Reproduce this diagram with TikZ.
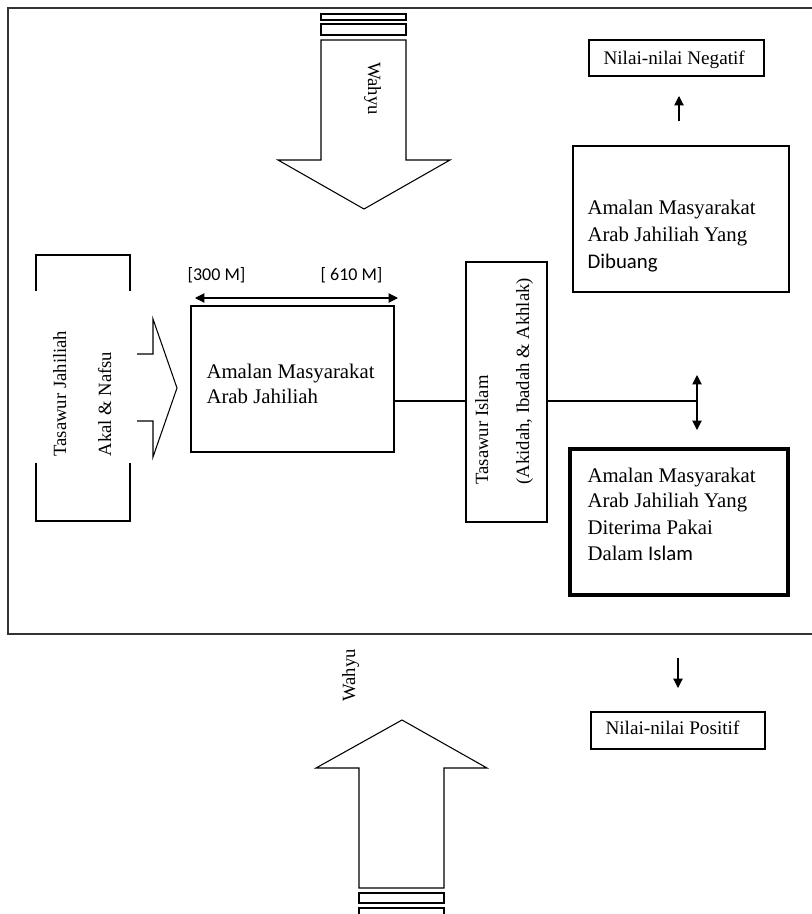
\documentclass[tikz,border=0pt]{standalone}
\usepackage{fontspec}
\setmainfont{Liberation Serif}
\newfontfamily\calib{Carlito}
\usetikzlibrary{arrows.meta,fit}
\begin{document}
\begin{tikzpicture}[x=0.75pt,y=-0.75pt,line width=0.8pt,line join=miter,
  box/.style={draw,inner sep=0pt},
  txt/.style={anchor=base west,inner sep=0pt,font=\fontsize{15.6}{19}\selectfont},
  stxt/.style={anchor=base west,inner sep=0pt,font=\fontsize{14.4}{17}\selectfont},
  vtxt/.style={anchor=base west,inner sep=0pt,rotate=90,font=\fontsize{14}{16}\selectfont},
  lbl/.style={anchor=base west,inner sep=0pt,font=\calib\fontsize{13.5}{16}\selectfont},
  tipst/.style={-{Triangle[length=7pt,width=7pt]}},
  dblst/.style={{Triangle[length=7pt,width=7pt]}-{Triangle[length=7pt,width=7pt]}}]
\useasboundingbox (0,0) rectangle (812,914);
\clip (0,0) rectangle (812,914);
% outer frame
\draw[line width=1.3pt,black!80] (830,8) -- (8,8) -- (8,634) -- (830,634);
% top Wahyu arrow
\draw (321,14) rectangle (406,20);
\draw (321,24) rectangle (406,35);
\draw (321,40) -- (406,40) -- (406,160) -- (450,160) -- (364,209) -- (278,160) -- (321,160) -- cycle;
\node[vtxt,rotate=180] (wtop) at (368,62) {Wahyu};
% bottom Wahyu arrow
\draw (359,888) -- (444,888) -- (444,768) -- (487,768) -- (402,720) -- (316,768) -- (359,768) -- cycle;
\draw (359,893) rectangle (444,903);
\draw (359,908) rectangle (444,930);
\node[vtxt] (wbot) at (355,702) {Wahyu};
% left bracket
\draw (36,291) -- (36,255) -- (130,255) -- (130,291);
\draw (36,463) -- (36,521) -- (130,521) -- (130,463);
\node[vtxt] (tj) at (66,457) {Tasawur Jahiliah};
\node[vtxt] (an) at (111,457) {Akal \& Nafsu};
% chevron arrow
\draw (137,354) -- (153,354) -- (153,319) -- (177,388) -- (153,457) -- (153,421) -- (137,421);
% middle box
\node[box,fit={(191,306) (394,452)}] (mid) {};
\node[txt] (m1) at (206,378) {Amalan Masyarakat};
\node[txt] (m2) at (206,403) {Arab Jahiliah};
% dimension
\node[lbl] (l300) at (187,280) {[300 M]};
\node[lbl] (l610) at (320,280) {[ 610 M]};
\coordinate (dimL) at (195,298);
\coordinate (dimR) at (398,298);
\draw[dblst] (dimL) -- (dimR);
% Tasawur Islam box
\node[box,fit={(466,262) (547,522)}] (isl) {};
\node[vtxt] (ti) at (488,485) {Tasawur Islam};
\node[vtxt] (aia) at (529,485) {(Akidah, Ibadah \& Akhlak)};
% connectors
\coordinate (ly) at (0,401);
\coordinate (va) at (697,401);
\draw (mid.east |- ly) -- (isl.west |- ly);
\draw (isl.east |- ly) -- (va);
\coordinate (vtop) at (697,375);
\coordinate (vbot) at (697,430);
\draw[dblst] (vtop) -- (vbot);
% right boxes
\node[box,fit={(589,40) (764,76)}] (neg) {};
\node[stxt] (negt) at (603,64) {Nilai-nilai Negatif};
\coordinate (ua) at (679,121);
\coordinate (ub) at (679,96);
\draw[tipst] (ua) -- (ub);
\node[box,fit={(573,146) (789,292)}] (dib) {};
\node[txt] (d1) at (587,214) {Amalan Masyarakat};
\node[txt] (d2) at (587,241) {Arab Jahiliah Yang};
\node[txt] (d3) at (587,268) {\calib Dibuang};
\node[box,line width=3pt,fit={(570,449) (788,595)}] (ter) {};
\node[txt] (t1) at (587,482) {Amalan Masyarakat};
\node[txt] (t2) at (587,507) {Arab Jahiliah Yang};
\node[txt] (t3) at (587,534) {Diterima Pakai};
\node[txt] (t4) at (587,560) {Dalam {\calib Islam}};
\coordinate (da) at (678,658);
\coordinate (db) at (678,688);
\draw[tipst] (da) -- (db);
\node[box,fit={(591,712) (765,749)}] (pos) {};
\node[stxt] (post) at (605,734) {Nilai-nilai Positif};
\end{tikzpicture}
\end{document}
